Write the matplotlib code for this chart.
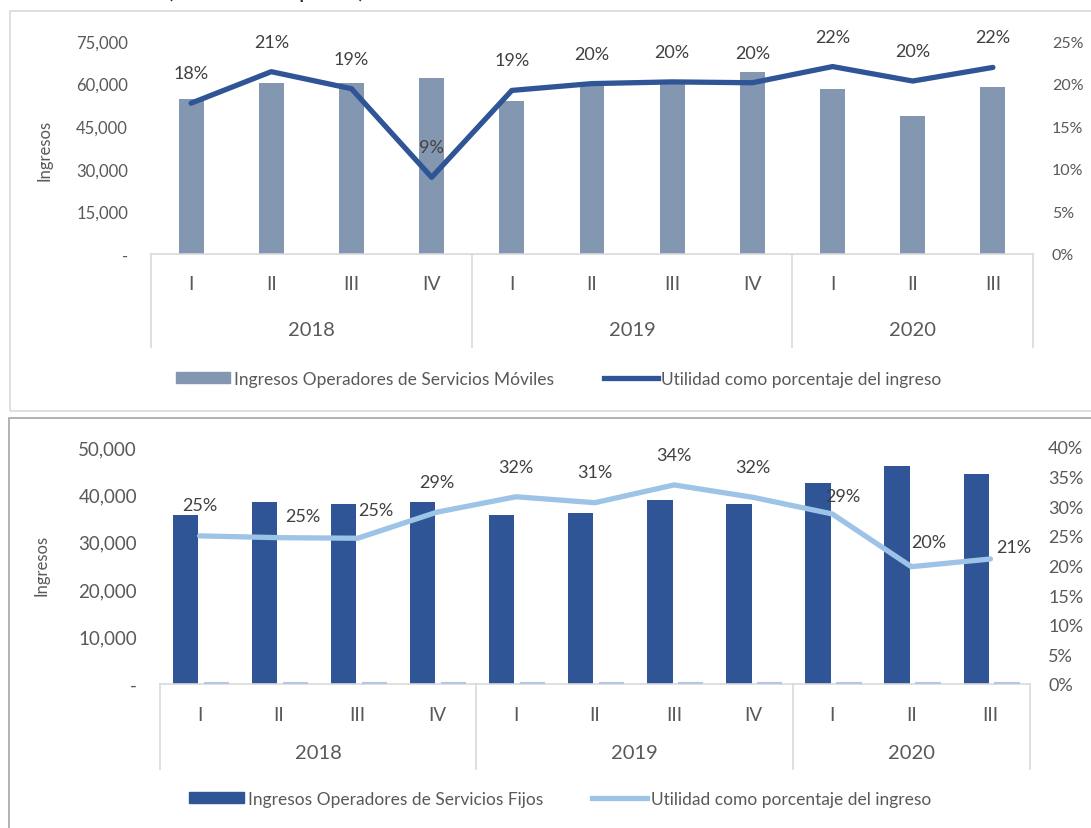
import numpy as np
import matplotlib
matplotlib.use("Agg")
import matplotlib.pyplot as plt
from matplotlib.patches import Rectangle
from matplotlib.lines import Line2D
from matplotlib.ticker import FuncFormatter, MultipleLocator

plt.rcParams['font.family'] = ['Lato', 'DejaVu Sans']

# data
quarters = ["I", "II", "III", "IV", "I", "II", "III", "IV", "I", "II", "III"]
years = ["2018", "2019", "2020"]
year_counts = [4, 4, 3]

moviles_ingresos = [54500, 60200, 60100, 62000, 53900, 59900, 61300, 64100, 58100, 48600, 58800]
moviles_utilidad = [17.7, 21.4, 19.4, 9.0, 19.2, 20.0, 20.2, 20.1, 22.0, 20.3, 21.9]

fijos_ingresos = [35700, 38400, 38000, 38400, 35700, 36100, 38800, 37900, 42500, 46000, 44300]
fijos_utilidad = [25.0, 24.7, 24.6, 29.0, 31.6, 30.6, 33.6, 31.5, 28.7, 19.8, 21.1]

W, H = 1091, 829
GRID = "#d9d9d9"
TXT = "#595959"
LBL = "#404040"


def fx(px):
    return px / W


def fy(py):
    return 1 - py / H


fig = plt.figure(figsize=(W / 100, H / 100), dpi=100)

# outer frames of the two pasted charts + cropped title
fig.add_artist(Rectangle((fx(10), fy(412)), fx(1095) - fx(10), fy(12) - fy(412),
                         transform=fig.transFigure, fill=False, ec=GRID, lw=1.2))
fig.add_artist(Rectangle((fx(9), fy(835)), fx(1095) - fx(9), fy(419) - fy(835),
                         transform=fig.transFigure, fill=False, ec="#a6a6a6", lw=1.2))
fig.text(fx(266), fy(-2.5), "(Millones de pesos)", ha="center", va="baseline",
         fontsize=17, color="#262626")

x = np.arange(len(quarters))


def thousands(v, pos):
    return "-" if v == 0 else f"{v:,.0f}"


def pct(v, pos):
    return f"{v:.0f}%"


def category_axis(ax, sep_bottom, q_y, y_y, qsize, ysize):
    tr = ax.get_xaxis_transform()
    ax.set_xticks(x)
    ax.set_xticklabels([])
    ax.tick_params(axis="x", length=0)
    for i, q in enumerate(quarters):
        ax.text(i, q_y, q, transform=tr, ha="center", va="center", fontsize=qsize, color=TXT)
    seps = np.concatenate([[0], np.cumsum(year_counts)]) - 0.5
    for s in seps:
        ax.add_line(Line2D([s, s], [0, sep_bottom], transform=tr, color=GRID, lw=1.2, clip_on=False))
    for k, yr in enumerate(years):
        mid = (seps[k] + seps[k + 1]) / 2
        ax.text(mid, y_y, yr, transform=tr, ha="center", va="center", fontsize=ysize, color=TXT)


def style_axes(ax, ax2):
    for a in (ax, ax2):
        for sp in a.spines.values():
            sp.set_visible(False)
    ax.spines["bottom"].set_visible(True)
    ax.spines["bottom"].set_color(GRID)
    ax.spines["bottom"].set_linewidth(1.2)
    ax.tick_params(axis="y", length=0, colors=TXT)
    ax2.tick_params(axis="y", length=0, colors=TXT)
    ax.set_xlim(-0.5, len(quarters) - 0.5)


# ---------------- top chart: servicios moviles ----------------
left1, right1 = 151, 1033
ax1 = fig.add_axes([fx(left1), fy(255), fx(right1) - fx(left1), fy(42) - fy(255)])
ax1b = ax1.twinx()
ax1.bar(x, moviles_ingresos, width=0.31, color="#8497b0", zorder=2)
ax1b.plot(x, moviles_utilidad, color="#2f5597", lw=3.8, solid_capstyle="round", zorder=3)
ax1.set_ylim(0, 75000)
ax1.yaxis.set_major_locator(MultipleLocator(15000))
ax1.yaxis.set_major_formatter(FuncFormatter(thousands))
ax1b.set_ylim(0, 25)
ax1b.yaxis.set_major_locator(MultipleLocator(5))
ax1b.yaxis.set_major_formatter(FuncFormatter(pct))
style_axes(ax1, ax1b)
ax1.tick_params(axis="y", labelsize=12, pad=16.5)
ax1b.tick_params(axis="y", labelsize=11.5, pad=13.5)
ax1.set_ylabel("Ingresos", fontsize=12, color=TXT)
ax1.yaxis.set_label_coords((53 - left1) / (right1 - left1), (255 - 150) / 213)
for i, v in enumerate(moviles_utilidad):
    ax1b.annotate(f"{v:.0f}%", (x[i], v), xytext=(0, 30 * 0.72), textcoords="offset points",
                  ha="center", va="center", fontsize=13, color=LBL)
category_axis(ax1, -(348 - 255) / 213, -(285 - 255) / 213, -(331 - 255) / 213, 14, 14.5)

h1 = [Rectangle((0, 0), 1, 1, color="#8497b0"),
      Line2D([0], [0], color="#2f5597", lw=3.8)]
fig.legend(h1, ["Ingresos Operadores de Servicios Móviles", "Utilidad como porcentaje del ingreso"],
           loc="center", bbox_to_anchor=(fx(559), fy(380)), ncol=2, frameon=False,
           fontsize=12.5, handlelength=3.1, handleheight=0.6, handletextpad=0.2,
           columnspacing=2.9, labelcolor=TXT)

# ---------------- bottom chart: servicios fijos ----------------
left2, right2 = 160, 1030
ax2 = fig.add_axes([fx(left2), fy(685), fx(right2) - fx(left2), fy(448) - fy(685)])
ax2b = ax2.twinx()
ax2.bar(x - 0.18, fijos_ingresos, width=0.32, color="#2f5597", zorder=2)
ax2.bar(x + 0.21, fijos_utilidad, width=0.32, color="#b4c7e7", ec="#b4c7e7", lw=3, zorder=3)
ax2b.plot(x, fijos_utilidad, color="#9dc3e6", lw=3.8, solid_capstyle="round", zorder=3)
ax2.set_ylim(0, 50000)
ax2.yaxis.set_major_locator(MultipleLocator(10000))
ax2.yaxis.set_major_formatter(FuncFormatter(thousands))
ax2b.set_ylim(0, 40)
ax2b.yaxis.set_major_locator(MultipleLocator(5))
ax2b.yaxis.set_major_formatter(FuncFormatter(pct))
style_axes(ax2, ax2b)
ax2.tick_params(axis="y", labelsize=13.5, pad=16.5)
ax2b.tick_params(axis="y", labelsize=13, pad=13)
ax2.set_ylabel("Ingresos", fontsize=12, color=TXT)
ax2.yaxis.set_label_coords((50 - left2) / (right2 - left2), (685 - 565) / 237)

label_offsets = [(0, 31), (24, 22), (18, 28), (0, 30), (0, 30), (0, 31),
                 (0, 30), (0, 30), (11, 18), (17, 25), (23, 12)]
for i, v in enumerate(fijos_utilidad):
    dx, dy = label_offsets[i]
    ax2b.annotate(f"{v:.0f}%", (x[i], v), xytext=(dx * 0.72, dy * 0.72), textcoords="offset points",
                  ha="center", va="center", fontsize=13, color=LBL)
category_axis(ax2, -(770 - 685) / 237, -(716 - 685) / 237, -(754 - 685) / 237, 13.5, 14.5)

h2 = [Rectangle((0, 0), 1, 1, color="#2f5597"),
      Line2D([0], [0], color="#9dc3e6", lw=3.8)]
fig.legend(h2, ["Ingresos Operadores de Servicios Fijos", "Utilidad como porcentaje del ingreso"],
           loc="center", bbox_to_anchor=(fx(560), fy(800)), ncol=2, frameon=False,
           fontsize=12.5, handlelength=3.2, handleheight=0.6, handletextpad=0.2,
           columnspacing=2.8, labelcolor=TXT)

fig.savefig("out.png", dpi=100)
